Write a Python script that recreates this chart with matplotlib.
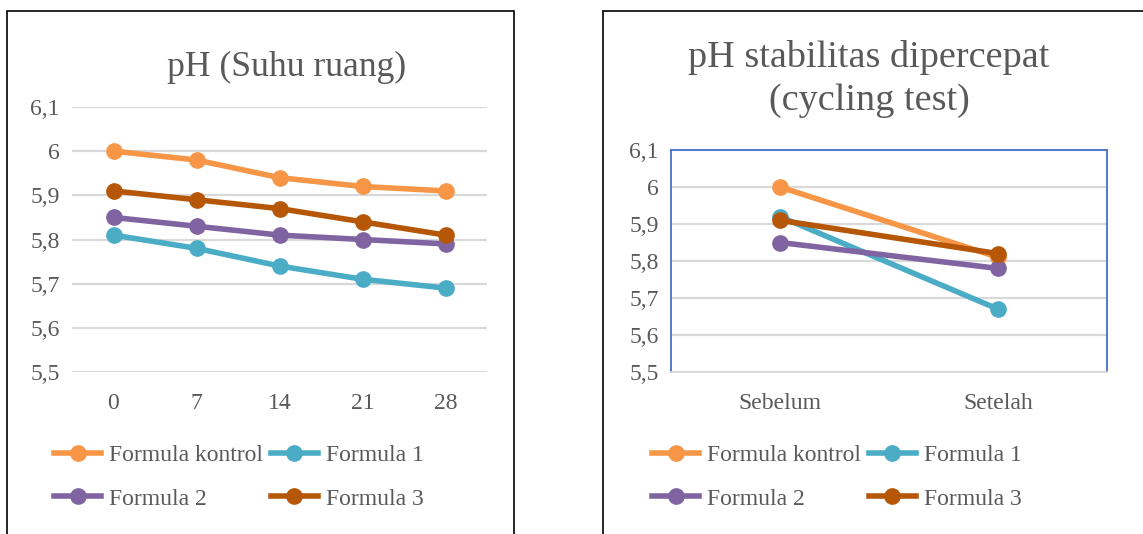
import matplotlib
matplotlib.use("Agg")
import matplotlib.pyplot as plt
from matplotlib.patches import Rectangle
from matplotlib.lines import Line2D

# ---- data ----
days = ["0", "7", "14", "21", "28"]
left_kontrol = [6.00, 5.98, 5.94, 5.92, 5.91]
left_f1 = [5.81, 5.78, 5.74, 5.71, 5.69]
left_f2 = [5.85, 5.83, 5.81, 5.80, 5.79]
left_f3 = [5.91, 5.89, 5.87, 5.84, 5.81]

phases = ["Sebelum", "Setelah"]
right_kontrol = [6.00, 5.81]
right_f1 = [5.92, 5.67]
right_f2 = [5.85, 5.78]
right_f3 = [5.91, 5.82]

series_names = ["Formula kontrol", "Formula 1", "Formula 2", "Formula 3"]
colors = ["#F79646", "#4BACC6", "#8064A2", "#B65708"]
yticks = [5.5, 5.6, 5.7, 5.8, 5.9, 6.0, 6.1]
ytick_labels = ["5,5", "5,6", "5,7", "5,8", "5,9", "6", "6,1"]

W, H = 1143, 534
plt.rcParams['font.family'] = ['Liberation Serif', 'DejaVu Serif']
fig = plt.figure(figsize=(W / 100, H / 100), dpi=100)
TXT = "#595959"
GRID = "#D9D9D9"
FS = 17
LW = 4.0
MS = 11

def fx(px):
    return px / W

def fy(py):
    return 1 - py / H

# panel borders
fig.patches.append(Rectangle((fx(7), fy(540)), fx(514 - 7), fy(11) - fy(540),
                             transform=fig.transFigure, fill=False, ec="black", lw=1.2))
fig.patches.append(Rectangle((fx(603), fy(540)), fx(1150 - 603), fy(11) - fy(540),
                             transform=fig.transFigure, fill=False, ec="black", lw=1.2))

def setup(ax, cats, datasets, box=False):
    x = list(range(len(cats)))
    for d, c, n in zip(datasets, colors, series_names):
        ax.plot(x, d, color=c, lw=LW, marker="o", markersize=MS, label=n,
                solid_capstyle="round", zorder=3)
    ax.set_xlim(-0.5, len(cats) - 0.5)
    ax.set_ylim(5.5, 6.1)
    ax.set_yticks(yticks)
    ax.set_yticklabels(ytick_labels)
    ax.set_xticks(x)
    ax.set_xticklabels(cats)
    ax.tick_params(length=0, labelsize=FS, colors=TXT, pad=9)
    ax.tick_params(axis="x", pad=15)
    ax.grid(axis="y", color=GRID, lw=1.6)
    ax.set_axisbelow(True)
    for s in ax.spines.values():
        s.set_visible(False)
    if box:
        for s in ax.spines.values():
            s.set_visible(True)
            s.set_color("#4472C4")
            s.set_linewidth(1.3)
        ax.spines["bottom"].set_color("#D9D9D9")

# left axes: x 72..487, y 107..372
axL = fig.add_axes([fx(72), fy(372), fx(487 - 72), fy(107) - fy(372)])
setup(axL, days, [left_kontrol, left_f1, left_f2, left_f3])
# right axes: x 671..1107, y 150..372
axR = fig.add_axes([fx(671), fy(372), fx(1107 - 671), fy(150) - fy(372)])
setup(axR, phases, [right_kontrol, right_f1, right_f2, right_f3], box=True)

fig.text(fx(287), fy(67), "pH (Suhu ruang)", ha="center", va="center",
         fontsize=25.7, color=TXT)
fig.text(fx(869), fy(79), "pH stabilitas dipercepat\n(cycling test)", ha="center",
         va="center", fontsize=27.5, color=TXT, linespacing=1.3)

# matplotlib fills columns first; reorder so that rows read kontrol|F1, F2|F3
def legend2(x0):
    order = [0, 2, 1, 3]
    handles = [Line2D([], [], color=colors[i], lw=LW, marker="o", markersize=MS)
               for i in order]
    labels = [series_names[i] for i in order]
    leg = fig.legend(handles, labels, ncol=2, frameon=False,
                     loc="center left", bbox_to_anchor=(fx(x0), fy(477)),
                     fontsize=FS, handlelength=2.0, handletextpad=0.35,
                     columnspacing=0.3, labelspacing=0.95, borderaxespad=0,
                     borderpad=0)
    for t in leg.get_texts():
        t.set_color(TXT)

legend2(54)
legend2(652)

fig.savefig("out.png", dpi=100, facecolor="white")
